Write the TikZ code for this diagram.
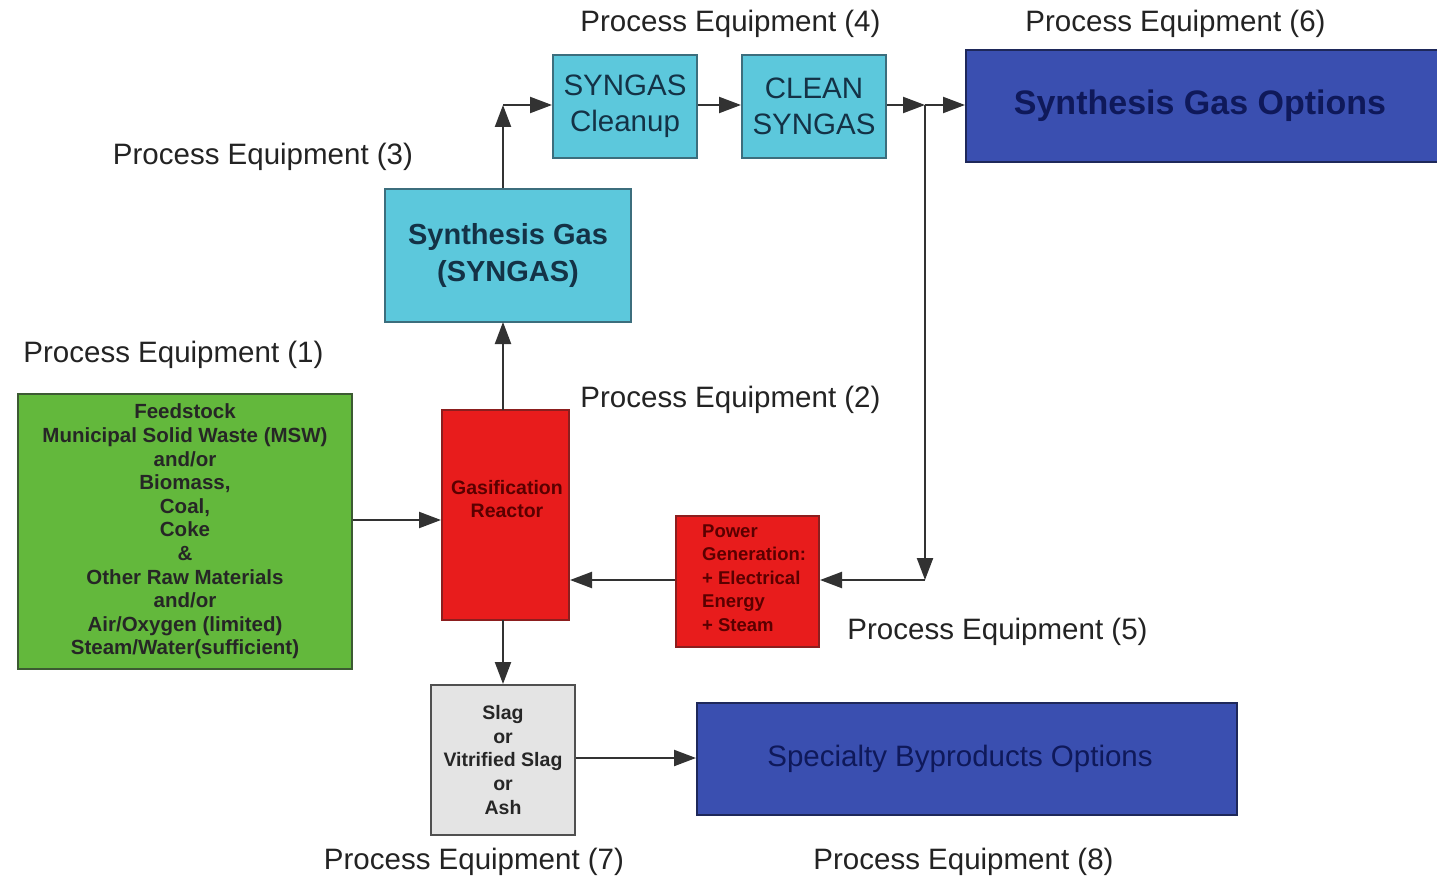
\documentclass[tikz,border=0pt]{standalone}
\usepackage{fontspec}
\setmainfont{Liberation Sans}
\usetikzlibrary{arrows.meta}
\definecolor{feedgreen}{RGB}{99,184,60}
\definecolor{feedborder}{RGB}{60,90,50}
\definecolor{reactred}{RGB}{232,28,28}
\definecolor{redborder}{RGB}{140,30,30}
\definecolor{redtext}{RGB}{90,0,0}
\definecolor{syncyan}{RGB}{92,200,220}
\definecolor{cyanborder}{RGB}{60,110,125}
\definecolor{cyantext}{RGB}{20,50,70}
\definecolor{optblue}{RGB}{58,79,176}
\definecolor{blueborder}{RGB}{30,40,90}
\definecolor{bluetext}{RGB}{15,25,90}
\definecolor{slaggray}{RGB}{228,228,228}
\definecolor{grayborder}{RGB}{80,80,80}
\definecolor{linegray}{RGB}{50,50,50}
\definecolor{labeltext}{RGB}{35,35,35}
\tikzset{
  box/.style={draw, line width=2pt, inner sep=0pt, anchor=center},
  greenbox/.style={box, fill=feedgreen, draw=feedborder},
  redbox/.style={box, fill=reactred, draw=redborder},
  cyanbox/.style={box, fill=syncyan, draw=cyanborder, text=cyantext},
  bluebox/.style={box, fill=optblue, draw=blueborder, text=bluetext},
  graybox/.style={box, fill=slaggray, draw=grayborder},
  smallbold/.style={font=\fontsize{19.5}{23.6}\selectfont\bfseries, align=center},
  peqlabel/.style={font=\fontsize{29.5}{34}\selectfont, text=labeltext, anchor=center, inner sep=0pt},
  flow/.style={draw=linegray, line width=2.2pt, -{Triangle[length=22pt,width=16pt]}},
}
\begin{document}
\begin{tikzpicture}[x=1pt,y=-1pt]
\useasboundingbox (0,0) rectangle (1437,880);
\fill[white] (0,0) rectangle (1437,880);

% boxes
\node[greenbox, minimum width=334, minimum height=275, font=\fontsize{20.5}{23.6}\selectfont\bfseries, align=center, text=black!85] (feed) at (185,531.5)
  {Feedstock\\Municipal Solid Waste (MSW)\\and/or\\Biomass,\\Coal,\\Coke\\\&\\Other Raw Materials\\and/or\\Air/Oxygen (limited)\\Steam/Water(sufficient)};
\node[redbox, minimum width=127, minimum height=210] (reactor) at (505.5,515) {};
\node[smallbold, text=redtext, inner sep=0pt] (reactortext) at (507,499) {Gasification\\Reactor};
\node[cyanbox, minimum width=246, minimum height=133, font=\fontsize{29}{36}\selectfont\bfseries, align=center] (syngas) at (508,255.5)
  {Synthesis Gas\\(SYNGAS)};
\node[cyanbox, minimum width=144, minimum height=103, font=\fontsize{29.5}{36}\selectfont, align=center] (cleanup) at (625,106.5)
  {SYNGAS\\Cleanup};
\node[cyanbox, minimum width=144, minimum height=103, font=\fontsize{29.5}{36}\selectfont, align=center] (clean) at (814,106.5)
  {CLEAN\\SYNGAS};
\node[bluebox, minimum width=484, minimum height=112, font=\fontsize{34}{40}\selectfont\bfseries] (options) at (1208,106)
  {\hspace*{-16pt}Synthesis Gas Options};
\node[redbox, minimum width=143, minimum height=131] (power) at (747.5,581.5) {};
\node[font=\fontsize{18.5}{23.6}\selectfont\bfseries, align=left, text=redtext, anchor=west, inner sep=0pt] (powertext) at (702,578)
  {Power\\Generation:\\+ Electrical\\Energy\\+ Steam};
\node[graybox, minimum width=144, minimum height=150, smallbold, text=black!85] (slag) at (503,760)
  {Slag\\or\\Vitrified Slag\\or\\Ash};
\node[bluebox, minimum width=540, minimum height=112, font=\fontsize{29.5}{36}\selectfont] (spec) at (967,759)
  {\hspace*{-14pt}Specialty Byproducts Options};

% junction coordinates
\coordinate (j1) at (503,105);
\coordinate (j2) at (925,105);
\coordinate (j3) at (925,580);

% connectors
\draw[flow] (feed.east |- 0,520) -- (reactor.west |- 0,520);
\draw[flow] (503,410) -- (503,322);
\draw[flow] (j1 |- syngas.north) -- (j1);
\draw[flow] (j1) -- (cleanup.west |- j1);
\draw[flow] (cleanup.east |- j1) -- (clean.west |- j1);
\draw[flow] (clean.east |- j2) -- (j2);
\draw[flow] (j2) -- (options.west |- j2);
\draw[flow] (j2) -- (j3);
\draw[flow] (j3) -- (power.east |- j3);
\draw[flow] (power.west |- j3) -- (reactor.east |- j3);
\draw[flow] (503,620) -- (slag.north);
\draw[flow] (slag.east |- 0,758) -- (spec.west |- 0,758);

% labels
\node[peqlabel] (pe4) at (730.5,24) {Process Equipment (4)};
\node[peqlabel] (pe6) at (1175.5,24) {Process Equipment (6)};
\node[peqlabel] (pe3) at (263,157) {Process Equipment (3)};
\node[peqlabel] (pe1) at (173.5,355) {Process Equipment (1)};
\node[peqlabel] (pe2) at (730.5,400) {Process Equipment (2)};
\node[peqlabel] (pe5) at (997.5,632) {Process Equipment (5)};
\node[peqlabel] (pe7) at (474,862) {Process Equipment (7)};
\node[peqlabel] (pe8) at (963.5,862) {Process Equipment (8)};
\end{tikzpicture}
\end{document}
